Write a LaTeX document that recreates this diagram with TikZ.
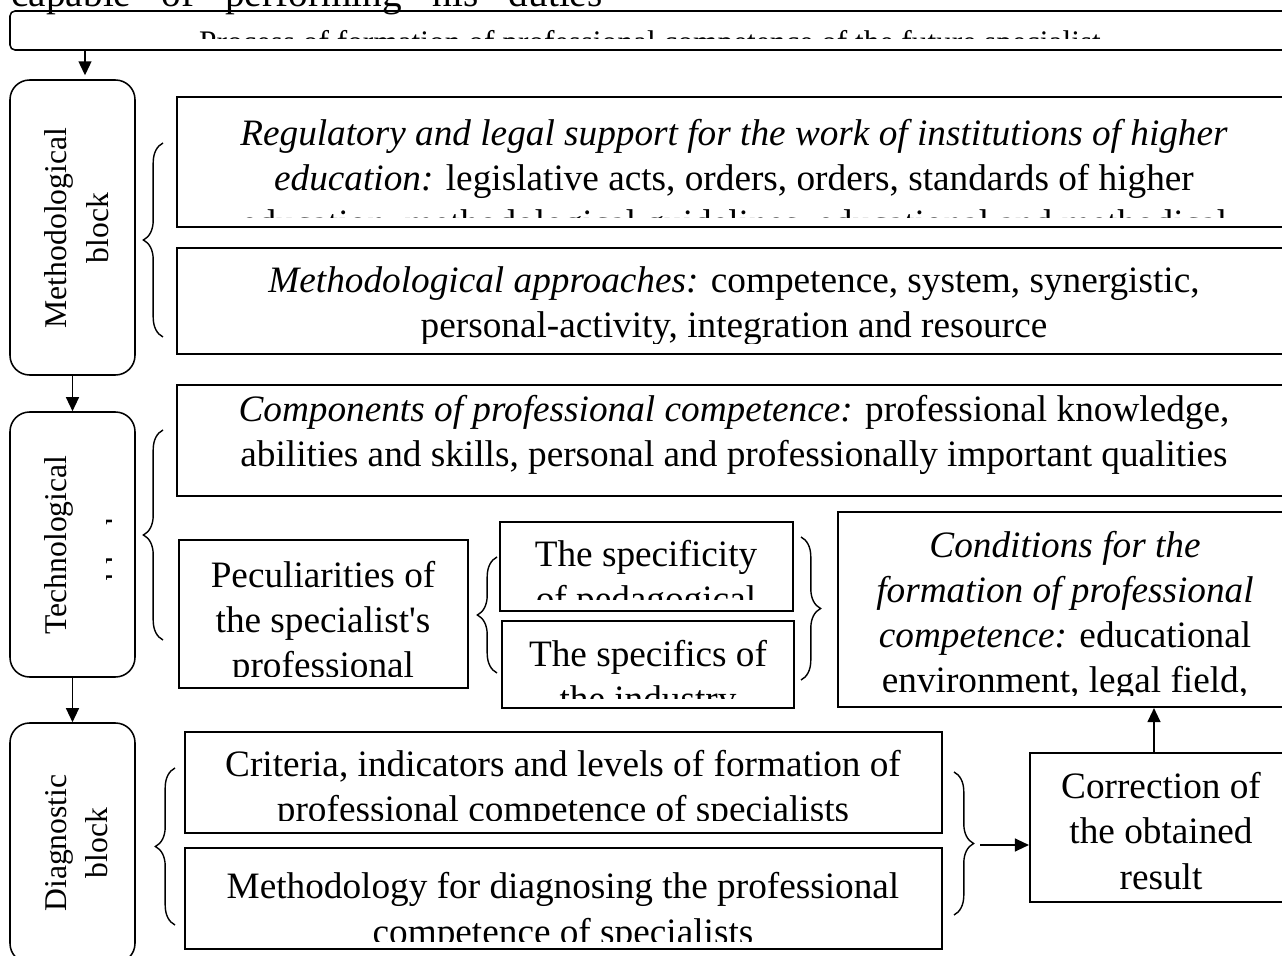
\documentclass[tikz,border=0pt]{standalone}
\usepackage{fontspec}
\setmainfont{Liberation Serif}[Ligatures=TeXOff]
\usetikzlibrary{arrows.meta,fit,decorations.pathreplacing}

\begin{document}
\begin{tikzpicture}[x=0.357pt,y=-0.357pt,
    box/.style={draw, line width=0.75pt, inner sep=0pt},
    rbox/.style={draw, line width=0.55pt, rounded corners=7pt, inner sep=0pt},
    txt/.style={font=\fontsize{13.3}{16.1}\selectfont, align=center, inner sep=0pt, anchor=base},
    rot/.style={font=\fontsize{11.3}{14.8}\selectfont, align=center, inner sep=0pt, rotate=90},
    arr/.style={-{Triangle[length=5pt,width=4.6pt]}, line width=0.55pt},
    brc/.style={decorate, decoration={brace, amplitude=7pt}, line width=0.5pt}]

    \useasboundingbox (0,0) rectangle (1282,956);
    \clip (0,0) rectangle (1282,956);

    % 顶部 (base 锚点 = 最后一行的基线)
    \node[txt, font=\fontsize{14}{16}\selectfont, anchor=base west] (duty) at (11,7) {\makebox[211pt][s]{capable of performing his duties}};
    \node[rbox, rounded corners=1.8pt, fit={(10,11) (1291,50)}] (top) {};
    \begin{scope}
        \clip (10,11) rectangle (1291,39);
        \node[txt, font=\fontsize{11.2}{13}\selectfont] (toptxt) at (650,53) {Process of formation of professional competence of the future specialist};
    \end{scope}

    % 三个模块
    \node[rbox, fit={(10,80) (135,375)}] (meth) {};
    \node[rbox, fit={(10,412) (135,677)}] (tech) {};
    \node[rbox, fit={(10,723) (135,963)}] (diag) {};
    \node[rot] (methtxt) at (76.5,228) {Methodological\\block};
    \begin{scope}
        \clip (10,412) rectangle (111,677);
        \node[rot, font=\fontsize{11.3}{22.1}\selectfont] (techtxt) at (87,545) {Technological\\block};
    \end{scope}
    \node[rot] (diagtxt) at (76.5,843) {Diagnostic\\block};

    \coordinate (ax) at (85,0);
    \draw[arr, shorten >=1.4pt] (top.south -| ax) -- (meth.north -| ax);
    \draw[arr] (meth) -- (tech);
    \draw[arr] (tech) -- (diag);

    % 方法论模块
    \node[box, fit={(177,97) (1291,227)}] (reg) {};
    \begin{scope}
        \clip (177,97) rectangle (1291,218);
        \node[txt] (regtxt) at (734,236) {\textit{Regulatory and legal support for the work of institutions of higher}\\
            \textit{education:} legislative acts, orders, orders, standards of higher\\
            education, methodological guidelines, educational and methodical};
    \end{scope}
    \node[box, fit={(177,248) (1291,354)}] (appr) {};
    \begin{scope}
        \clip (177,248) rectangle (1291,344);
        \node[txt] (apprtxt) at (734,338) {\textit{Methodological approaches:} competence, system, synergistic,\\
            personal-activity, integration and resource};
    \end{scope}
    \draw[brc] (163,337) -- (163,143);

    % 技术模块
    \node[box, fit={(177,385) (1291,496)}] (comp) {};
    \node[txt] (comptxt) at (734,467) {\textit{Components of professional competence:} professional knowledge,\\
        abilities and skills, personal and professionally important qualities};
    \draw[brc] (163,640) -- (163,430);

    \node[box, fit={(179,540) (468,688)}] (pecul) {};
    \begin{scope}
        \clip (179,540) rectangle (468,677);
        \node[txt] (pecultxt) at (323,678) {Peculiarities of\\the specialist's\\professional};
    \end{scope}
    \node[box, fit={(500,522) (793,611)}] (pedag) {};
    \begin{scope}
        \clip (500,522) rectangle (793,600);
        \node[txt] (pedagtxt) at (646,612) {The specificity\\of pedagogical};
    \end{scope}
    \node[box, fit={(502,621) (794,708)}] (indus) {};
    \begin{scope}
        \clip (502,621) rectangle (794,699);
        \node[txt] (industxt) at (648,712) {The specifics of\\the industry};
    \end{scope}
    \draw[brc] (497,673) -- (497,557);
    \draw[brc] (801,537) -- (801,680);

    \node[box, fit={(838,512) (1291,707)}] (cond) {};
    \begin{scope}
        \clip (838,512) rectangle (1291,696);
        \node[txt] (condtxt) at (1065,693) {\textit{Conditions for the}\\\textit{formation of professional}\\
            \textit{competence:} educational\\environment, legal field,};
    \end{scope}

    % 诊断模块
    \node[box, fit={(185,732) (942,833)}] (crit) {};
    \begin{scope}
        \clip (185,732) rectangle (942,820);
        \node[txt] (crittxt) at (563,822) {Criteria, indicators and levels of formation of\\
            professional competence of specialists};
    \end{scope}
    \node[box, fit={(185,848) (942,949)}] (diagm) {};
    \begin{scope}
        \clip (185,848) rectangle (942,941);
        \node[txt] (diagmtxt) at (563,944) {Methodology for diagnosing the professional\\
            competence of specialists};
    \end{scope}
    \draw[brc] (175,925) -- (175,768);
    \draw[brc] (954,772) -- (954,915);

    \node[box, fit={(1030,753) (1291,902)}] (corr) {};
    \node[txt] (corrtxt) at (1161,889) {Correction of\\the obtained\\result};

    \coordinate (tip) at (980,845);
    \coordinate (ux) at (1154,0);
    \draw[arr] (tip) -- (tip -| corr.west);
    \draw[arr] (corr.north -| ux) -- (cond.south -| ux);
\end{tikzpicture}
\end{document}
